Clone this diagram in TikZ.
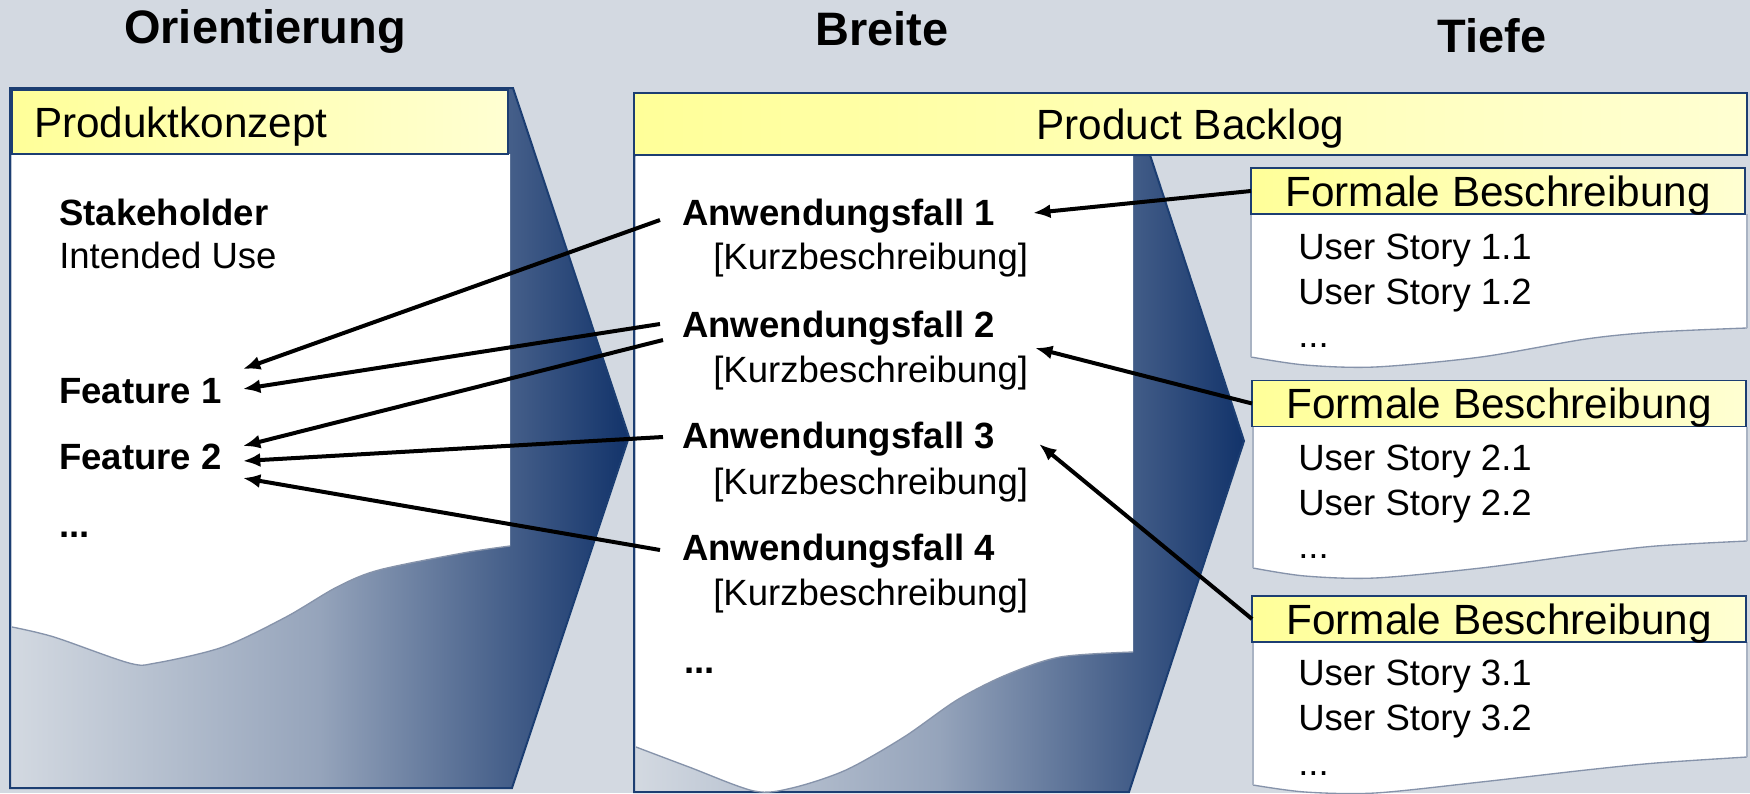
\documentclass[tikz,border=0pt]{standalone}
\usepackage{fontspec}
\setmainfont{Liberation Sans}
\usetikzlibrary{arrows.meta,calc}

\definecolor{backgr}{HTML}{D3D9E1}
\definecolor{framenavy}{HTML}{1C3E72}
\definecolor{deepnavy}{HTML}{12336A}
\definecolor{tornedge}{HTML}{8693AA}
\definecolor{sideedge}{HTML}{A9B3C3}
\definecolor{hdyellow}{HTML}{FFFF99}
\definecolor{hdpale}{HTML}{FFFFD2}

\begin{document}
\begin{tikzpicture}[x=0.75pt,y=0.75pt,yscale=-1,xscale=1,
  title/.style={anchor=base, inner sep=0pt, font=\fontsize{35.2}{40}\selectfont\bfseries},
  body/.style={anchor=base west, inner sep=0pt, font=\fontsize{27.4}{32}\selectfont},
  bodybold/.style={body, font=\fontsize{27.4}{32}\selectfont\bfseries},
  header/.style={draw=framenavy, line width=1.1pt, left color=hdyellow, right color=hdpale,
    inner sep=0pt, outer sep=0pt, text height=22.7pt, text depth=0pt, font=\fontsize{31.7}{36}\selectfont},
  panel/.style={draw=framenavy, line width=1.5pt, left color=backgr, right color=deepnavy, middle color=backgr!68!deepnavy},
  sheet/.style={fill=white},
  torn/.style={draw=tornedge, line width=1pt},
  side/.style={draw=sideedge, line width=0.8pt},
  link/.style={-{Latex[length=13pt,width=10.5pt]}, line width=3pt, black}]

\useasboundingbox (0,0) rectangle (1750,793);
\fill[backgr] (0,0) rectangle (1750,793);

\node[title] (orient) at (265,43) {Orientierung};
\node[title] (breite) at (882,45) {Breite};
\node[title] (tiefe) at (1492,52) {Tiefe};

%%%%%%%%%%%%%%%%%%%%%%%%%%%%%%%%%%%%%%%%%%%%%%%%%%%%%%%%%%%%%%%%%%%%%%%%

\draw[panel] (10,88) -- (513,88) -- (629,437) -- (512,788) -- (10,788) -- cycle;
\fill[sheet] (12,154) -- (510,154) -- plot[smooth] coordinates {(510,546) (463,553) (379,570) (337,587) (286,617) (223,647) (156,663) (129,663) (54,637) (12,627)} -- cycle;
\draw[torn] plot[smooth] coordinates {(510,546) (463,553) (379,570) (337,587) (286,617) (223,647) (156,663) (129,663) (54,637) (12,627)};

\node[header, text width=339pt, align=left, inner xsep=16.5pt, minimum height=48pt] (pkhead) at (260,122) {Produktkonzept};

\node[bodybold] (stake) at (59,225) {Stakeholder};
\node[body] (use) at (59,268) {Intended Use};
\node[bodybold] (feat1) at (59,403) {Feature 1};
\node[bodybold] (feat2) at (59,469) {Feature 2};
\node[bodybold] (more1) at (59,537) {...};

%%%%%%%%%%%%%%%%%%%%%%%%%%%%%%%%%%%%%%%%%%%%%%%%%%%%%%%%%%%%%%%%%%%%%%%%

\draw[panel] (634,155) -- (1150,155) -- (1244,441) -- (1129,792) -- (634,792) -- cycle;
\fill[sheet] (636,155) -- (1133,155) -- plot[smooth] coordinates {(1133,652) (1060,657) (1006,675) (957,700) (904,737) (846,770) (792,788) (754,791) (689,767) (636,747)} -- cycle;
\draw[torn] plot[smooth] coordinates {(1133,652) (1060,657) (1006,675) (957,700) (904,737) (846,770) (792,788) (754,791) (689,767) (636,747)};

\node[header, minimum width=834.75pt, minimum height=46.5pt] (pbhead) at (1190.5,124) {Product Backlog};

\node[bodybold] (af1) at (682,225) {Anwendungsfall 1};
\node[body] (kurz1) at (713,269) {[Kurzbeschreibung]};
\node[bodybold] (af2) at (682,337) {Anwendungsfall 2};
\node[body] (kurz2) at (713,382) {[Kurzbeschreibung]};
\node[bodybold] (af3) at (682,448) {Anwendungsfall 3};
\node[body] (kurz3) at (713,494) {[Kurzbeschreibung]};
\node[bodybold] (af4) at (682,560) {Anwendungsfall 4};
\node[body] (kurz4) at (713,605) {[Kurzbeschreibung]};
\node[bodybold] (more2) at (684,673) {...};

%%%%%%%%%%%%%%%%%%%%%%%%%%%%%%%%%%%%%%%%%%%%%%%%%%%%%%%%%%%%%%%%%%%%%%%%

\fill[sheet] (1251,214) -- (1747,214) -- plot[smooth] coordinates {(1747,328) (1656,332) (1586,339) (1481,357) (1375,367) (1305,365) (1251,357)} -- cycle;
\draw[torn] plot[smooth] coordinates {(1747,328) (1656,332) (1586,339) (1481,357) (1375,367) (1305,365) (1251,357)};
\draw[side] (1251,214) -- (1251,357);
\draw[side] (1747,214) -- (1747,328);
\node[header, minimum width=370.5pt, minimum height=34.5pt] (fbhead1) at (1498,191) {Formale Beschreibung};
\node[body] (us11) at (1298,259) {User Story 1.1};
\node[body] (us12) at (1298,304) {User Story 1.2};
\node[body] (more31) at (1298,347) {...};

%%%%%%%%%%%%%%%%%%%%%%%%%%%%%%%%%%%%%%%%%%%%%%%%%%%%%%%%%%%%%%%%%%%%%%%%

\fill[sheet] (1253,427) -- (1747,427) -- plot[smooth] coordinates {(1747,541) (1656,546) (1586,554) (1481,568) (1375,578) (1305,576) (1253,568)} -- cycle;
\draw[torn] plot[smooth] coordinates {(1747,541) (1656,546) (1586,554) (1481,568) (1375,578) (1305,576) (1253,568)};
\draw[side] (1253,427) -- (1253,568);
\draw[side] (1747,427) -- (1747,541);
\node[header, minimum width=370.5pt, minimum height=34.5pt] (fbhead2) at (1499,403.5) {Formale Beschreibung};
\node[body] (us21) at (1298,470) {User Story 2.1};
\node[body] (us22) at (1298,515) {User Story 2.2};
\node[body] (more32) at (1298,558) {...};

%%%%%%%%%%%%%%%%%%%%%%%%%%%%%%%%%%%%%%%%%%%%%%%%%%%%%%%%%%%%%%%%%%%%%%%%

\fill[sheet] (1253,642) -- (1747,642) -- plot[smooth] coordinates {(1747,757) (1656,763) (1586,770) (1481,782) (1375,793) (1305,792) (1253,785)} -- cycle;
\draw[torn] plot[smooth] coordinates {(1747,757) (1656,763) (1586,770) (1481,782) (1375,793) (1305,792) (1253,785)};
\draw[side] (1253,642) -- (1253,785);
\draw[side] (1747,642) -- (1747,757);
\node[header, minimum width=370.5pt, minimum height=34.5pt] (fbhead3) at (1499,619) {Formale Beschreibung};
\node[body] (us31) at (1298,685) {User Story 3.1};
\node[body] (us32) at (1298,730) {User Story 3.2};
\node[body] (more33) at (1298,775) {...};

%%%%%%%%%%%%%%%%%%%%%%%%%%%%%%%%%%%%%%%%%%%%%%%%%%%%%%%%%%%%%%%%%%%%%%%%

\draw[link] ($(af1.base west)+(-22,-5)$) -- ($(feat1.base east)+(21,-34)$);
\draw[link] ($(af2.base west)+(-22,-13)$) -- ($(feat1.base east)+(21,-14)$);
\draw[link] ($(af2.base west)+(-19,3)$) -- ($(feat2.base east)+(21,-23)$);
\draw[link] ($(af3.base west)+(-19,-11)$) -- ($(feat2.base east)+(21,-8)$);
\draw[link] ($(af4.base west)+(-22,-10)$) -- ($(feat2.base east)+(21,9)$);

\draw[link] (fbhead1.west) -- ($(af1.base east)+(38,-12)$);
\draw[link] (fbhead2.west) -- ($(af2.base east)+(40,11)$);
\draw[link] (fbhead3.west) -- ($(af3.base east)+(44,-4)$);

%%%%%%%%%%%%%%%%%%%%%%%%%%%%%%%%%%%%%%%%%%%%%%%%%%%%%%%%%%%%%%%%%%%%%%%%

\end{tikzpicture}
\end{document}
